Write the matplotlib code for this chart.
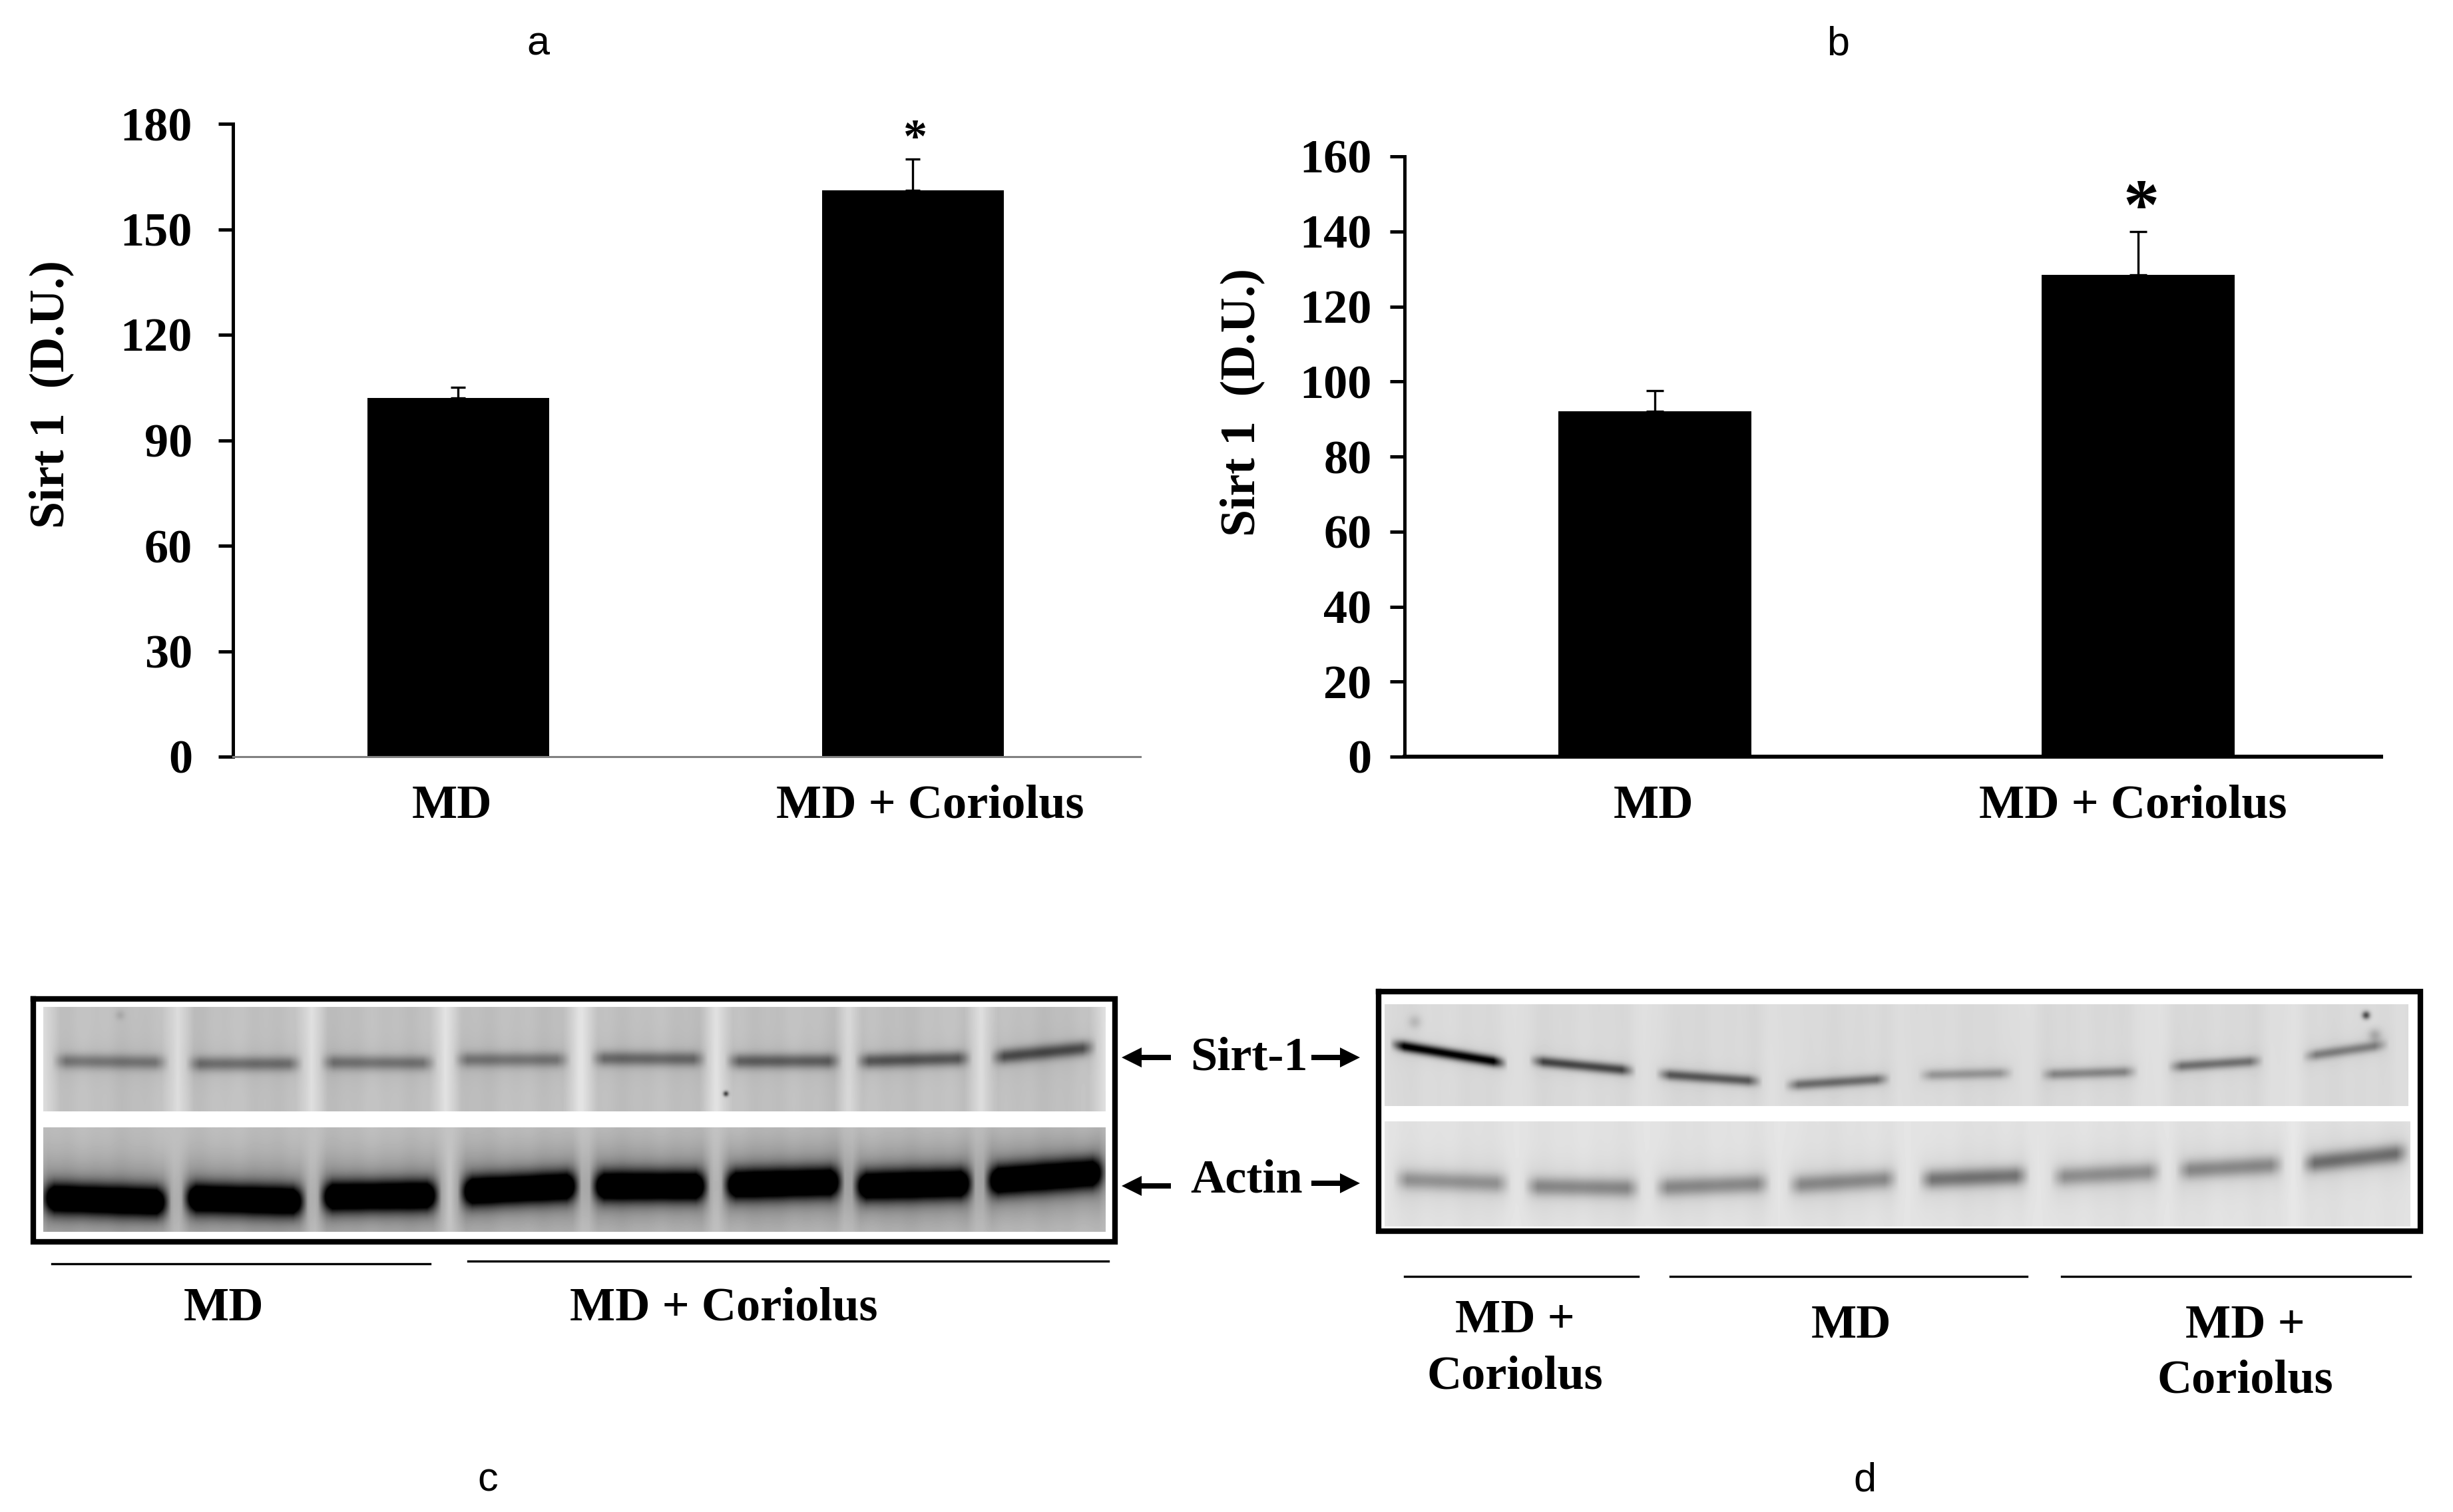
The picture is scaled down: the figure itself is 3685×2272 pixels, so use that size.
import matplotlib
matplotlib.use('Agg')
import matplotlib.pyplot as plt
import numpy as np
from matplotlib.patches import FancyArrow
from matplotlib.transforms import ScaledTranslation

W, H = 3685, 2272
SERIF = 'Liberation Serif'
SANS = 'Liberation Sans'

# ── Bar data ──────────────────────────────────────────────────────────────────
categories = ['MD', 'MD + Coriolus']
a_values = [102, 161]
a_err = [3, 9]
a_ticks = [0, 30, 60, 90, 120, 150, 180]
b_values = [92, 128.5]
b_err = [5.5, 11.5]
b_ticks = [0, 20, 40, 60, 80, 100, 120, 140, 160]

# ── Blot lanes (pixels) ───────────────────────────────────────────────────────
# centre x, half width, band y left, band y right, darkness
c_sirt = [(166, 78, 1594, 1596, .27), (367, 78, 1598, 1598, .30), (568, 78, 1596, 1597, .28),
          (769, 78, 1592, 1592, .27), (974, 78, 1590, 1591, .32), (1177, 78, 1594, 1594, .36),
          (1372, 78, 1594, 1590, .40), (1567, 70, 1588, 1574, .44)]
c_actin = [(158, 88, 1800, 1806, 1.0), (367, 84, 1800, 1805, 1.0), (570, 82, 1798, 1796, 1.0),
           (780, 82, 1790, 1782, 1.0), (976, 80, 1782, 1782, 1.0), (1176, 82, 1780, 1776, 1.0),
           (1372, 82, 1782, 1778, 1.0), (1570, 82, 1774, 1762, 1.0)]
d_sirt = [(2176, 78, 1570, 1596, .85), (2377, 70, 1594, 1608, .55), (2567, 70, 1614, 1624, .48),
          (2760, 70, 1630, 1621, .40), (2953, 62, 1615, 1612, .24), (3138, 64, 1614, 1610, .30),
          (3328, 62, 1602, 1594, .38), (3523, 55, 1586, 1570, .33)]
d_actin = [(2181, 78, 1772, 1778, .26), (2377, 78, 1782, 1785, .30), (2572, 78, 1784, 1778, .30),
           (2768, 74, 1780, 1771, .30), (2965, 74, 1772, 1766, .38), (3164, 74, 1768, 1760, .28),
           (3350, 72, 1758, 1750, .30), (3538, 72, 1748, 1732, .40)]

# specks on the membranes: x, y, radius, darkness
c_sirt_specks = [(1090, 1643, 4, .55), (180, 1525, 7, .08)]
d_sirt_specks = [(3554, 1525, 6, .55), (3567, 1555, 10, .18), (2125, 1535, 10, .12)]

# outer frame (line centres) and blot boxes
c_frame = (50, 1501, 1675, 1866)
c_top = (65, 1513, 1661, 1670)
c_bot = (65, 1694, 1661, 1851)
d_frame = (2071, 1490, 3636, 1850)
d_top = (2080, 1509, 3618, 1662)
d_bot = (2080, 1685, 3621, 1843)


def smooth_edge(v, edge, soft):
    return np.clip((v - edge) / soft + 0.5, 0, 1)


def make_blot(box, lanes, bg, sigma, halo=0.0, gap=0.0, streak=0.0, specks=()):
    x0, y0, x1, y1 = box
    xs = np.arange(x0, x1, 1.0)
    ys = np.arange(y0, y1, 1.0)
    X, Y = np.meshgrid(xs, ys)
    img = np.full(X.shape, bg + gap)
    for cx, hw, yl, yr, dark in lanes:
        env = smooth_edge(X, cx - hw, 22) * (1 - smooth_edge(X, cx + hw, 22))
        pad = smooth_edge(X, cx - hw - 10, 24) * (1 - smooth_edge(X, cx + hw + 10, 24))
        yc = yl + (yr - yl) * (X - cx + hw) / (2 * hw)
        img -= pad * gap
        img -= pad * halo * np.exp(-((Y - yc) / (sigma * 2.6)) ** 2)
        img -= env * dark * np.exp(-((Y - yc) / sigma) ** 2)
    for sx, sy, r, dark in specks:
        img -= dark * np.exp(-((X - sx) ** 2 + (Y - sy) ** 2) / r ** 2)
    # faint vertical smears in the membrane
    img += streak * (np.sin(X / 17.0) + 0.6 * np.sin(X / 6.3 + 1.0) + 0.5 * np.sin(X / 41.0 + Y / 90.0))
    return np.clip(img, 0, 1), (x0, x1, y1, y0)


def label_arrow(ax, x0, x1, y):
    ax.add_patch(FancyArrow(x0, y, x1 - x0, 0, width=8, head_width=30, head_length=30,
                            length_includes_head=True, color='black', lw=0))


fig = plt.figure(figsize=(W / 100, H / 100), dpi=100)
fig.patch.set_facecolor('white')

# pixel overlay for blots and free text
ov = fig.add_axes([0, 0, 1, 1])
ov.patch.set_alpha(0)
ov.axis('off')

blots = [
    make_blot(c_top, c_sirt, 0.75, 11, halo=0.03, gap=0.12, streak=0.010, specks=c_sirt_specks),
    make_blot(c_bot, c_actin, 0.74, 22, halo=0.24, gap=0.02, streak=0.008),
    make_blot(d_top, d_sirt, 0.85, 8, halo=0.03, gap=0.02, streak=0.006, specks=d_sirt_specks),
    make_blot(d_bot, d_actin, 0.88, 14, halo=0.05, gap=0.02, streak=0.005),
]
for img, ext in blots:
    ov.imshow(img, cmap='gray', vmin=0, vmax=1, extent=ext, aspect='auto', interpolation='bilinear')

ov.set_xlim(0, W)
ov.set_ylim(H, 0)

for x0, y0, x1, y1 in (c_frame, d_frame):
    ov.plot([x0, x1, x1, x0, x0], [y0, y0, y1, y1, y0], color='black', lw=6,
            solid_joinstyle='miter')

# group lines under the blots
for x0, x1, y in [(78, 646, 1899), (703, 1665, 1895),
                  (2110, 2461, 1918), (2509, 3045, 1918), (3097, 3621, 1918)]:
    ov.plot([x0, x1], [y, y], color='black', lw=2.4)

tfont = dict(family=SERIF, fontweight='bold', color='black', ha='center', va='center')
ov.text(336, 1966, 'MD', fontsize=52, **tfont)
ov.text(1087, 1966, 'MD + Coriolus', fontsize=52, **tfont)
ov.text(2276, 1984, 'MD +', fontsize=52, **tfont)
ov.text(2276, 2069, 'Coriolus', fontsize=52, **tfont)
ov.text(2781, 1992, 'MD', fontsize=52, **tfont)
ov.text(3373, 1992, 'MD +', fontsize=52, **tfont)
ov.text(3373, 2075, 'Coriolus', fontsize=52, **tfont)

base = dict(tfont, va='baseline')
ov.text(1876, 1608, 'Sirt-1', fontsize=52, **base)
ov.text(1873, 1792, 'Actin', fontsize=52, **base)
label_arrow(ov, 1759, 1685, 1589)
label_arrow(ov, 1970, 2043, 1589)
label_arrow(ov, 1759, 1685, 1782)
label_arrow(ov, 1970, 2043, 1778)

lfont = dict(family=SANS, color='black', ha='center', va='center', fontsize=44)
ov.text(808, 67, 'a', **lfont)
ov.text(2761, 67, 'b', **lfont)
ov.text(733, 2225, 'c', **lfont)
ov.text(2801, 2225, 'd', **lfont)


def bar_panel(left, right, top, bottom, values, errs, ticks, ymax, xlim, xcolor, xlw, cap, ypad, labels_dx):
    ax = fig.add_axes([left / W, 1 - bottom / H, (right - left) / W, (bottom - top) / H])
    ax.patch.set_alpha(0)
    ax.bar([0, 1], values, width=0.4, color='black')
    ax.errorbar([0, 1], values, yerr=[[0, 0], errs], fmt='none', ecolor='black', elinewidth=2.4,
                capsize=cap, capthick=2.4)
    ax.set_xlim(*xlim)
    ax.set_ylim(0, ymax)
    ax.set_yticks(ticks)
    ax.set_xticks([0, 1], categories)
    for s in ('top', 'right'):
        ax.spines[s].set_visible(False)
    ax.spines['left'].set_linewidth(3.6)
    ax.spines['bottom'].set_linewidth(xlw)
    ax.spines['bottom'].set_color(xcolor)
    ax.tick_params(axis='y', length=16, width=3.6, pad=ypad, labelsize=52)
    ax.tick_params(axis='x', length=0, pad=30, labelsize=52)
    for lab in ax.get_xticklabels() + ax.get_yticklabels():
        lab.set_fontfamily(SERIF)
        lab.set_fontweight('bold')
    for lab, dx in zip(ax.get_xticklabels(), labels_dx):
        lab.set_transform(lab.get_transform() + ScaledTranslation(dx / 100, 0, fig.dpi_scale_trans))
    return ax


ax_a = bar_panel(350, 1713, 186, 1137, a_values, a_err, a_ticks, 180, (-0.495, 1.5),
                 '#808080', 2.2, 8, 28, (-9, 26))
ax_b = bar_panel(2110, 3577, 235, 1137, b_values, b_err, b_ticks, 160, (-0.518, 1.503),
                 'black', 4.3, 9.4, 19.5, (-2, -8))

ov.text(77, 592, 'Sirt 1  (D.U.)', rotation=90, fontsize=53, **tfont)
ov.text(1866, 604, 'Sirt 1  (D.U.)', rotation=90, fontsize=53, **tfont)
ov.text(1375, 210, '*', fontsize=52, **tfont)
ov.text(3217, 318, '*', fontsize=78, **tfont)

plt.savefig('out.png', dpi=100, facecolor='white')
